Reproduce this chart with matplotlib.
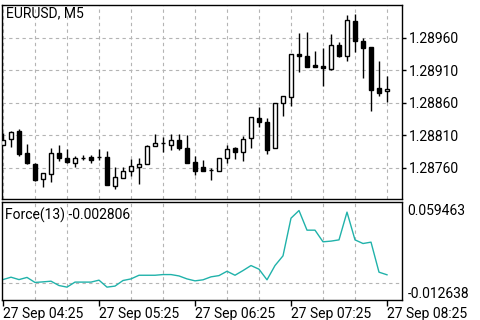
import matplotlib
matplotlib.use("Agg")
import matplotlib.pyplot as plt
import numpy as np

plt.rcParams['font.family'] = ['Roboto', 'DejaVu Sans']

# EURUSD M5 candles, 27 Sep 04:25 .. 08:25 (49 bars)
opens = [1.28796, 1.28804, 1.28817, 1.28783, 1.28766, 1.28743, 1.28750, 1.28783, 1.28776, 1.28767,
         1.28776, 1.28777, 1.28777, 1.28777, 1.28733, 1.28744, 1.28756, 1.28761, 1.28766, 1.28794,
         1.28798, 1.28795, 1.28803, 1.28790, 1.28769, 1.28761, 1.28757, 1.28755, 1.28776, 1.28791,
         1.28784, 1.28806, 1.28837, 1.28830, 1.28790, 1.28860, 1.28869, 1.28935, 1.28932, 1.28918,
         1.28917, 1.28913, 1.28949, 1.28933, 1.28986, 1.28955, 1.28946, 1.28883, 1.28878]
highs = [1.28814, 1.28817, 1.28820, 1.28797, 1.28767, 1.28752, 1.28790, 1.28795, 1.28789, 1.28778,
         1.28780, 1.28780, 1.28789, 1.28786, 1.28762, 1.28762, 1.28774, 1.28775, 1.28795, 1.28812,
         1.28808, 1.28812, 1.28813, 1.28810, 1.28778, 1.28772, 1.28760, 1.28776, 1.28795, 1.28792,
         1.28809, 1.28839, 1.28854, 1.28837, 1.28860, 1.28870, 1.28936, 1.28968, 1.28969, 1.28940,
         1.28945, 1.28966, 1.28954, 1.28995, 1.28997, 1.28960, 1.28946, 1.28925, 1.28901]
lows = [1.28795, 1.28793, 1.28779, 1.28766, 1.28740, 1.28731, 1.28739, 1.28771, 1.28767, 1.28762,
        1.28773, 1.28767, 1.28773, 1.28734, 1.28727, 1.28744, 1.28748, 1.28736, 1.28766, 1.28794,
        1.28785, 1.28787, 1.28787, 1.28768, 1.28749, 1.28755, 1.28742, 1.28755, 1.28768, 1.28774,
        1.28771, 1.28791, 1.28823, 1.28781, 1.28790, 1.28840, 1.28855, 1.28907, 1.28916, 1.28916,
        1.28886, 1.28911, 1.28930, 1.28924, 1.28939, 1.28899, 1.28847, 1.28870, 1.28861]
closes = [1.28803, 1.28816, 1.28782, 1.28767, 1.28741, 1.28752, 1.28783, 1.28776, 1.28769, 1.28776,
          1.28776, 1.28773, 1.28777, 1.28734, 1.28746, 1.28756, 1.28763, 1.28766, 1.28794, 1.28798,
          1.28798, 1.28803, 1.28790, 1.28768, 1.28756, 1.28755, 1.28757, 1.28776, 1.28789, 1.28784,
          1.28805, 1.28838, 1.28831, 1.28788, 1.28860, 1.28870, 1.28936, 1.28933, 1.28916, 1.28916,
          1.28914, 1.28949, 1.28933, 1.28987, 1.28956, 1.28944, 1.28880, 1.28876, 1.28881]

# Force(13) values, one per bar
force = [-0.0015, 0.0006, -0.0015, 0.0004, -0.0040, -0.0035, -0.0029, -0.0067, -0.0081, -0.0037,
         -0.0037, -0.0037, -0.0020, -0.0081, -0.0072, -0.0023, -0.0009, 0.0023, 0.0023, 0.0023,
         0.0029, 0.0029, 0.0017, -0.0009, -0.0026, -0.0017, 0.0009, 0.0020, 0.0058, 0.0023,
         0.0064, 0.0108, 0.0076, -0.0017, 0.0108, 0.0193, 0.0523, 0.0590, 0.0418, 0.0418,
         0.0316, 0.0322, 0.0333, 0.0576, 0.0333, 0.0301, 0.0313, 0.0050, 0.0027]
force_label = "Force(13) -0.002806"
force_max = 0.059463
force_min = -0.012638
force_grid = -0.0047

symbol = "EURUSD, M5"
price_ticks = [1.28760, 1.28810, 1.28860, 1.28910, 1.28960]
time_ticks = [0, 12, 24, 36, 48]
time_labels = ["27 Sep 04:25", "27 Sep 05:25", "27 Sep 06:25", "27 Sep 07:25", "27 Sep 08:25"]

fs = 10

fig = plt.figure(figsize=(4.8, 3.2), dpi=100)
ax = fig.add_axes([2 / 480, 1 - 199 / 320, 400 / 480, 194.5 / 320])
ax2 = fig.add_axes([2 / 480, 1 - 300 / 320, 400 / 480, 98 / 320])

n = len(opens)
x = np.arange(n)
o = np.array(opens)
c = np.array(closes)

grid_kw = dict(color='#b4b4b4', linestyle=(0, (3, 3)), linewidth=0.8)

# candles
ax.vlines(x, lows, highs, color='black', linewidth=1, zorder=2)
body_bottom = np.minimum(o, c)
body_height = np.abs(c - o)
colors = ['white' if cc >= oo else 'black' for oo, cc in zip(o, c)]
ax.bar(x, body_height, bottom=body_bottom, width=0.55, color=colors,
       edgecolor='black', linewidth=1, zorder=3)

ax.set_xlim(-0.125, n + 0.875)
ax.set_ylim(1.287123, 1.290115)
ax.yaxis.tick_right()
ax.set_yticks(price_ticks)
ax.set_yticklabels([f"{p:.5f}" for p in price_ticks])
ax.set_xticks(np.arange(0, n, 4))
ax.tick_params(axis='x', length=0, labelbottom=False)
ax.tick_params(axis='y', length=3, width=1, pad=2, labelsize=fs, direction='out')
ax.grid(True, **grid_kw)
ax.set_axisbelow(True)
ax.text(0.01, 0.955, symbol, transform=ax.transAxes, fontsize=fs, va='center', ha='left')

# force panel
ax2.plot(x, force, color='#20b2aa', linewidth=1)
ax2.set_xlim(-0.125, n + 0.875)
ax2.set_ylim(-0.01938, 0.06647)
ax2.yaxis.tick_right()
ax2.set_yticks([force_max, force_min])
ax2.set_yticklabels([f"{force_max:.6f}", f"{force_min:.6f}"])
ax2.tick_params(axis='y', length=0, pad=4, labelsize=fs)
ax2.set_xticks(time_ticks)
ax2.set_xticklabels(time_labels, ha='left')
ax2.set_xticks(np.arange(0, n, 4), minor=True)
ax2.tick_params(axis='x', which='major', length=4, width=1, pad=1, labelsize=fs)
ax2.tick_params(axis='x', which='minor', length=0)
ax2.grid(True, which='minor', axis='x', **grid_kw)
ax2.axhline(force_grid, zorder=0, **grid_kw)
ax2.text(0.008, 0.86, force_label, transform=ax2.transAxes, fontsize=fs, va='center', ha='left')

for a in (ax, ax2):
    for s in a.spines.values():
        s.set_linewidth(1)
        s.set_color('black')

fig.savefig("out.png", dpi=100)
